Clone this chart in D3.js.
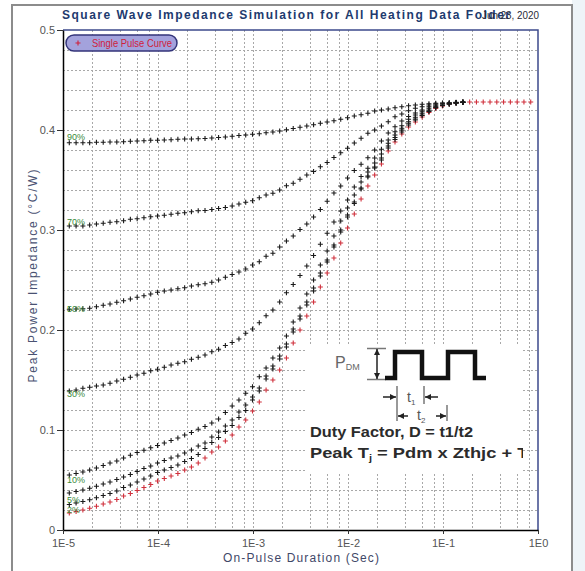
<!DOCTYPE html>
<meta charset="utf-8">
<head>
<script src="https://cdn.jsdelivr.net/npm/d3@7"></script>
<style>
  body { margin: 0; background: #fff; }
  svg text { font-family: "Liberation Sans", Arial, sans-serif; }
</style>
</head>
<body>
<svg id="chart" width="585" height="571"></svg>
<script>

// pulse durations (sec), 14 steps per decade
var pulseTimes = [
  1.165e-5, 1.373e-5, 1.619e-5, 1.908e-5, 2.249e-5, 2.651e-5, 3.125e-5, 3.684e-5, 4.342e-5, 5.118e-5, 6.033e-5, 7.112e-5, 8.383e-5, 9.882e-5,
  1.165e-4, 1.373e-4, 1.619e-4, 1.908e-4, 2.249e-4, 2.651e-4, 3.125e-4, 3.684e-4, 4.342e-4, 5.118e-4, 6.033e-4, 7.112e-4, 8.383e-4, 9.882e-4,
  1.165e-3, 1.373e-3, 1.619e-3, 1.908e-3, 2.249e-3, 2.651e-3, 3.125e-3, 3.684e-3, 4.342e-3, 5.118e-3, 6.033e-3, 7.112e-3, 8.383e-3, 9.882e-3,
  1.165e-2, 1.373e-2, 1.619e-2, 1.908e-2, 2.249e-2, 2.651e-2, 3.125e-2, 3.684e-2, 4.342e-2, 5.118e-2, 6.033e-2, 7.112e-2, 8.383e-2, 9.882e-2,
  1.165e-1, 1.373e-1, 1.619e-1, 1.908e-1, 2.249e-1, 2.651e-1, 3.125e-1, 3.684e-1, 4.342e-1, 5.118e-1, 6.033e-1, 7.112e-1, 8.383e-1
];

var singlePulse = [
  .017, .0185, .020, .0217, .0237, .026, .028, .0305, .034, .0365,
  .0395, .0425, .0455, .049, .0515, .054, .0565, .060, .063, .067,
  .072, .078, .083, .089, .095, .103, .110, .119, .128, .140,
  .150, .160, .172, .187, .200, .214, .228, .243, .257, .272,
  .287, .302, .316, .331, .344, .355, .366, .379, .388, .396,
  .403, .408, .413, .4175, .4215, .424, .426, .427, .4277, .428,
  .428, .428, .428, .428, .428, .428, .428, .428, .428
];

var duty90 = [
  .3873, .3873, .3873, .3873, .3877, .3877, .388, .388, .3883, .3887,
  .389, .3893, .3897, .3897, .390, .3903, .3907, .391, .391, .3913,
  .3915, .392, .3925, .393, .3937, .3945, .395, .3957, .3963, .3973,
  .398, .399, .4003, .4015, .4027, .404, .4053, .4067, .408, .4093,
  .4107, .4123, .414, .4153, .4167, .419, .420, .421, .4223, .4233,
  .4243, .425, .4257, .4263, .4267, .427, .4273, .4277, .428
];
var duty70 = [
  .304, .304, .304, .305, .306, .3067, .3077, .3083, .3093, .3107,
  .3113, .3123, .3133, .314, .3147, .3157, .3167, .3173, .3183, .3193,
  .3195, .3205, .3215, .3225, .324, .326, .3277, .3293, .3323, .335,
  .3367, .340, .3443, .3467, .3507, .355, .3585, .3633, .3675, .3725,
  .3773, .3817, .387, .3917, .3967, .400, .404, .4083, .4133, .416,
  .4193, .4217, .4233, .425, .426, .4267, .427, .4273, .4277
];
var duty50 = [
  .2207, .221, .2213, .2217, .2233, .2247, .226, .2277, .2293, .231,
  .2327, .2343, .236, .2377, .239, .240, .2413, .2423, .244, .2453,
  .2462, .2477, .250, .2527, .2555, .258, .261, .265, .2683, .2737,
  .2767, .283, .289, .294, .3005, .306, .313, .3205, .3287, .337,
  .344, .352, .3595, .3658, .3722, .380, .389, .397, .4033, .409,
  .4135, .417, .420, .4233, .425, .426, .4267, .4273, .4277
];
var duty30 = [
  .139, .140, .1417, .1427, .144, .145, .1467, .149, .1507, .1527,
  .155, .1567, .1593, .1607, .1627, .165, .1667, .1683, .1707, .1727,
  .175, .1783, .1807, .1845, .1875, .191, .1967, .201, .2073, .2143,
  .220, .228, .2373, .2455, .2545, .264, .2745, .2857, .2967, .308,
  .319, .330, .343, .3535, .3617, .372, .3807, .390, .3983, .4043,
  .4107, .415, .4183, .4217, .424, .425, .426, .427, .4277
];
var duty10 = [
  .055, .0565, .058, .060, .062, .0645, .067, .069, .072, .0747,
  .0775, .0797, .0822, .0845, .087, .0895, .092, .095, .0975, .1008,
  .1035, .107, .111, .1175, .124, .130, .1367, .1433, .1533, .162,
  .172, .182, .194, .208, .222, .236, .250, .265, .279, .294,
  .309, .322, .335, .348, .358, .367, .376, .3867, .395, .4017,
  .4083, .4127, .4167, .420, .4233, .4245, .426, .427, .4277
];
var duty5 = [
  .037, .0385, .040, .0417, .0437, .046, .048, .0505, .053, .0555,
  .0585, .0615, .064, .067, .0695, .072, .074, .077, .080, .084,
  .087, .093, .098, .104, .110, .118, .125, .133, .142, .154,
  .164, .174, .186, .201, .214, .228, .242, .257, .270, .285,
  .300, .315, .328, .342, .354, .363, .372, .384, .3925, .400,
  .4067, .411, .415, .419, .4225, .4245, .4263, .4272, .4277
];
var duty2 = [
  .0255, .027, .0285, .0302, .0322, .0345, .0365, .039, .0425, .045,
  .048, .051, .054, .0575, .060, .0625, .065, .0685, .0715, .0755,
  .0815, .0875, .0925, .0985, .1045, .1125, .1195, .130, .139, .151,
  .161, .171, .183, .198, .211, .225, .239, .254, .268, .283,
  .298, .313, .3265, .341, .353, .362, .370, .382, .3905, .398,
  .405, .410, .4145, .4185, .4223, .4245, .4263, .4272, .4277
];

var dutySeries = [duty90, duty70, duty50, duty30, duty10, duty5, duty2];
var dutyNames = ["90%", "70%", "50%", "30%", "10%", "5%", "2%"];
var dutyLabelLevels = [0.39, 0.305, 0.218, 0.133, 0.047, 0.027, 0.017];

var xTickValues = [1e-5, 1e-4, 1e-3, 1e-2, 1e-1, 1];
var xTickLabels = ["1E-5", "1E-4", "1E-3", "1E-2", "1E-1", "1E0"];
var yTickValues = [0, 0.1, 0.2, 0.3, 0.4, 0.5];

(function drawChart(){
    var svg = d3.select("#chart");
    var pLeft = 63, pRight = 538, pTop = 30, pBottom = 530;

    var x = d3.scaleLog().domain([1e-5, 1]).range([pLeft, pRight]);
    var y = d3.scaleLinear().domain([0, 0.5]).range([pBottom, pTop]);

    // page frame
    svg.append("rect").attr("x", 572).attr("y", 0).attr("width", 13).attr("height", 571).attr("fill", "#eef4f8");
    svg.append("rect").attr("x", 12).attr("y", 5).attr("width", 560).attr("height", 580)
        .attr("fill", "none").attr("stroke", "#8c8c8c").attr("stroke-width", 2);

    // grid
    var vGrid = [];
    xTickValues.slice(0, 5).forEach(function(d, i){
        if(i > 0) vGrid.push(d);
        [2, 4, 6, 8].forEach(function(m){ vGrid.push(d * m); });
    });
    var hGrid = d3.range(1, 25).map(function(i){ return i * 0.02; });

    var grid = svg.append("g").attr("stroke", "#a8a8a8").attr("stroke-width", 1).attr("stroke-dasharray", "2,2");
    grid.selectAll(".v").data(vGrid).enter().append("line")
        .attr("x1", function(d){ return Math.round(x(d)) + 0.5; })
        .attr("x2", function(d){ return Math.round(x(d)) + 0.5; })
        .attr("y1", pTop).attr("y2", pBottom);
    grid.selectAll(".h").data(hGrid).enter().append("line")
        .attr("y1", function(d){ return Math.round(y(d)) + 0.5; })
        .attr("y2", function(d){ return Math.round(y(d)) + 0.5; })
        .attr("x1", pLeft).attr("x2", pRight);

    // plot border (top/right)
    svg.append("path").attr("d", "M" + pLeft + "," + pTop + "H" + pRight + "V" + pBottom)
        .attr("fill", "none").attr("stroke", "#3d4a8c").attr("stroke-width", 1.5);

    // axes
    var yAxis = svg.append("g").attr("transform", "translate(" + pLeft + ",0)")
        .call(d3.axisLeft(y).tickValues(yTickValues).tickSize(6).tickSizeOuter(0)
            .tickFormat(function(d){ return d === 0 ? "0" : d.toFixed(1); }));
    var xAxis = svg.append("g").attr("transform", "translate(0," + pBottom + ")")
        .call(d3.axisBottom(x).tickValues(xTickValues).tickSize(4).tickSizeOuter(0)
            .tickFormat(function(d, i){ return xTickLabels[i]; }));
    [yAxis, xAxis].forEach(function(a){
        a.select(".domain").attr("stroke", "#000").attr("stroke-width", 1.5);
        a.selectAll(".tick line").attr("stroke", "#333");
        a.selectAll(".tick text").attr("fill", "#555").attr("font-size", 11)
            .attr("font-family", "Liberation Sans, Arial, sans-serif");
    });
    yAxis.selectAll(".tick text").attr("x", -8);
    xAxis.selectAll(".tick text").attr("y", 9);

    // inset diagram
    var defs = svg.append("defs");
    defs.append("clipPath").attr("id", "insetClip").append("rect")
        .attr("x", 307).attr("y", 346).attr("width", 216).attr("height", 127);
    defs.append("marker").attr("id", "arr").attr("viewBox", "0 0 10 10").attr("refX", 10).attr("refY", 5)
        .attr("markerWidth", 4).attr("markerHeight", 4).attr("orient", "auto-start-reverse")
        .append("path").attr("d", "M0,0L10,5L0,10Z").attr("fill", "#222");

    var inset = svg.append("g").attr("clip-path", "url(#insetClip)");
    inset.append("rect").attr("x", 307).attr("y", 346).attr("width", 216).attr("height", 127).attr("fill", "#fff");

    var pdm = inset.append("text").attr("x", 335).attr("y", 368).attr("font-size", 16).attr("fill", "#666");
    pdm.append("tspan").text("P");
    pdm.append("tspan").attr("font-size", 9).attr("dy", 2).text("DM");

    inset.append("path").attr("d", "M367,348.5H386M367,379.5H386").attr("stroke", "#777").attr("stroke-width", 1.5);
    inset.append("line").attr("x1", 377).attr("x2", 377).attr("y1", 364).attr("y2", 349)
        .attr("stroke", "#222").attr("stroke-width", 1.5).attr("marker-end", "url(#arr)");
    inset.append("line").attr("x1", 377).attr("x2", 377).attr("y1", 364).attr("y2", 379)
        .attr("stroke", "#222").attr("stroke-width", 1.5).attr("marker-end", "url(#arr)");

    inset.append("path").attr("d", "M385,378H395V352H422V378H448V352H475V378H486")
        .attr("fill", "none").attr("stroke", "#111").attr("stroke-width", 4.5);

    inset.append("path").attr("d", "M397,386V421M424,386V404M447,405V421")
        .attr("stroke", "#999").attr("stroke-width", 2);
    [[383, 396, 397], [438, 425, 397], [408, 398, 416], [436, 446, 416]].forEach(function(a){
        inset.append("line").attr("x1", a[0]).attr("x2", a[1]).attr("y1", a[2]).attr("y2", a[2])
            .attr("stroke", "#222").attr("stroke-width", 1.5).attr("marker-end", "url(#arr)");
    });

    var t1 = inset.append("text").attr("x", 407).attr("y", 402).attr("font-size", 14).attr("fill", "#555");
    t1.append("tspan").text("t");
    t1.append("tspan").attr("font-size", 8).attr("dy", 3).text("1");
    var t2 = inset.append("text").attr("x", 417).attr("y", 420).attr("font-size", 14).attr("fill", "#555");
    t2.append("tspan").text("t");
    t2.append("tspan").attr("font-size", 8).attr("dy", 3).text("2");

    inset.append("text").attr("x", 310).attr("y", 437).attr("font-size", 15).attr("font-weight", "bold")
        .attr("fill", "#2b2b2b").attr("textLength", 163).attr("lengthAdjust", "spacingAndGlyphs")
        .text("Duty Factor, D = t1/t2");
    var peak = inset.append("text").attr("x", 310).attr("y", 458).attr("font-size", 15).attr("font-weight", "bold")
        .attr("fill", "#2b2b2b").attr("textLength", 222).attr("lengthAdjust", "spacingAndGlyphs");
    peak.append("tspan").text("Peak T");
    peak.append("tspan").attr("font-size", 9).attr("dy", 3).text("j");
    peak.append("tspan").attr("dy", -3).text(" = Pdm x Zthjc + T");
    peak.append("tspan").attr("font-size", 9).attr("dy", 3).text("(");

    // curves
    var cross = "M-2.5,0H2.5M0,-2.5V2.5";

    svg.append("g").selectAll("path").data(singlePulse).enter().append("path")
        .attr("d", cross)
        .attr("transform", function(d, i){ return "translate(" + x(pulseTimes[i]) + "," + y(d) + ")"; })
        .attr("stroke", "#d0303c").attr("stroke-width", 1.1).attr("fill", "none");

    dutySeries.forEach(function(series){
        svg.append("g").selectAll("path").data(series).enter().append("path")
            .attr("d", cross)
            .attr("transform", function(d, i){ return "translate(" + x(pulseTimes[i]) + "," + y(d) + ")"; })
            .attr("stroke", "#1a1a1a").attr("stroke-width", 1.1).attr("fill", "none");
    });

    svg.append("g").selectAll("text").data(dutyNames).enter().append("text")
        .attr("x", 67)
        .attr("y", function(d, i){ return y(dutyLabelLevels[i]); })
        .attr("font-size", 9).attr("fill", "#3a8a3a")
        .text(function(d){ return d; });

    // legend
    var legend = svg.append("g");
    legend.append("rect").attr("x", 66).attr("y", 35).attr("width", 111).attr("height", 16).attr("rx", 8)
        .attr("fill", "#a3a2dc").attr("stroke", "#34357a").attr("stroke-width", 1.5);
    legend.append("path").attr("d", cross).attr("transform", "translate(78,43)")
        .attr("stroke", "#d0203a").attr("stroke-width", 1.1);
    legend.append("text").attr("x", 92).attr("y", 47).attr("font-size", 10.5).attr("fill", "#d0203a")
        .attr("textLength", 80).attr("lengthAdjust", "spacingAndGlyphs")
        .text("Single Pulse Curve");

    // titles
    svg.append("text").attr("x", 62).attr("y", 19).attr("font-size", 12).attr("font-weight", "bold")
        .attr("fill", "#213a6e").attr("textLength", 448).attr("lengthAdjust", "spacing")
        .text("Square Wave Impedance Simulation for All Heating Data Folder");
    svg.append("text").attr("x", 539).attr("y", 19).attr("font-size", 11).attr("text-anchor", "end")
        .attr("fill", "#2a2a35").attr("textLength", 57).attr("lengthAdjust", "spacingAndGlyphs")
        .text("Jun 23, 2020");

    svg.append("text").attr("transform", "translate(37,276) rotate(-90)").attr("text-anchor", "middle")
        .attr("font-size", 12).attr("fill", "#4a5272").attr("textLength", 213).attr("lengthAdjust", "spacing")
        .text("Peak Power Impedance (\u00B0C/W)");
    svg.append("text").attr("x", 301).attr("y", 562).attr("text-anchor", "middle")
        .attr("font-size", 12).attr("fill", "#3f4868").attr("textLength", 156).attr("lengthAdjust", "spacing")
        .text("On-Pulse Duration (Sec)");
})();

</script>
</body>
